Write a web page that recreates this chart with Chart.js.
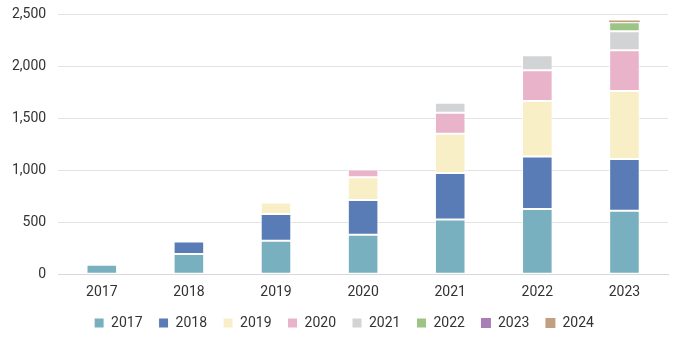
<!DOCTYPE html>
<html><head><meta charset="utf-8">
<script src="https://cdn.jsdelivr.net/npm/chart.js@4"></script>
<style>html,body{margin:0;padding:0;background:#fff}#w{width:680px;height:343px}</style>
</head><body><div id="w"><canvas id="c"></canvas></div>
<script>
const categories = ["2017","2018","2019","2020","2021","2022","2023"];
const seriesNames = ["2017","2018","2019","2020","2021","2022","2023","2024"];
const s2017 = [90, 193, 321, 379, 526, 626, 610];
const s2018 = [null, 122, 257, 334, 447, 504, 498];
const s2019 = [null, null, 112, 218, 376, 533, 651];
const s2020 = [null, null, null, 74, 202, 296, 392];
const s2021 = [null, null, null, null, 96, 144, 183];
const s2022 = [null, null, null, null, null, 12, 86];
const s2023 = [null, null, null, null, null, null, 4];
const s2024 = [null, null, null, null, null, null, 14];
const yTicks = [0, 500, 1000, 1500, 2000, 2500];
const colors = ["#79b0bf","#5a7cb6","#f8efc6","#e9b3c9","#d2d3d5","#9cc585","#a97db8","#bfa17f"];
const values = [s2017,s2018,s2019,s2020,s2021,s2022,s2023,s2024];
Chart.defaults.font.family = "Roboto, 'Liberation Sans', sans-serif";
Chart.defaults.font.size = 14;
Chart.defaults.color = "#333";
const shiftLegend = {
  id: 'shiftLegend',
  afterLayout(chart) { if (chart.legend) { chart.legend.left += 10; chart.legend.right += 10; } }
};
new Chart(document.getElementById('c'), {
  type: 'bar',
  data: {
    labels: categories,
    datasets: seriesNames.map((n,i)=>({
      label: n, data: values[i], backgroundColor: colors[i],
      borderColor: '#ffffff', borderWidth: i >= 6 ? 0 : 1, borderSkipped: false,
      barPercentage: 0.9, categoryPercentage: 0.39
    }))
  },
  plugins: [shiftLegend],
  options: {
    responsive: true, maintainAspectRatio: false, animation: false,
    layout: { padding: { top: 14, right: 12, left: 0, bottom: 3 } },
    plugins: {
      legend: { position: 'bottom', labels: { boxWidth: 10, boxHeight: 10, padding: 16, color: '#333', font: { size: 14 } } },
      tooltip: { enabled: false }
    },
    scales: {
      x: { stacked: true, grid: { display: false, drawTicks: false }, border: { display: true, color: '#d9d9d9' },
           ticks: { padding: 10, color: '#333' }, afterFit: ax => { ax.height -= 11; } },
      y: { stacked: true, min: 0, max: 2500, afterBuildTicks: ax => { ax.ticks = yTicks.map(v=>({value:v})); },
           afterFit: ax => { ax.paddingTop = 0; },
           grid: { color: '#e3e3e3', drawTicks: false }, border: { display: false },
           ticks: { padding: 12, color: '#333', callback: v => v.toLocaleString('en-US') } }
    }
  }
});
</script></body></html>
